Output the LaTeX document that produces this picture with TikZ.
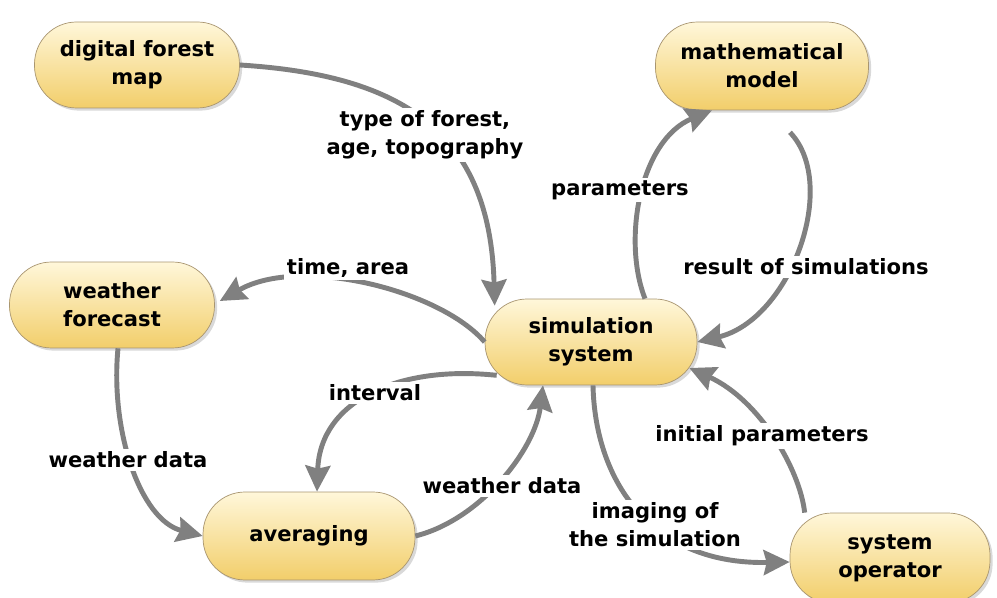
\documentclass[tikz,border=0pt]{standalone}
\usepackage{fontspec}
\setsansfont{DejaVu Sans}
\usetikzlibrary{arrows.meta}
\usetikzlibrary{shadows}
\definecolor{boxtop}{HTML}{FFF7DA}
\definecolor{boxbottom}{HTML}{F2CE6A}
\definecolor{boxline}{HTML}{A89570}
\definecolor{flowgray}{HTML}{808080}
\tikzset{
	basenode/.style = {
		align=center,
		inner sep=0pt,
		text centered,
		font=\sffamily\bfseries\fontsize{12}{16}\selectfont
	},
	node_box/.style = {
		basenode,
		rectangle,
		rounded corners=0.84cm,
		draw=boxline,
		top color=boxtop,
		bottom color=boxbottom,
		minimum width=4.1cm,
		minimum height=1.72cm,
		drop shadow={shadow xshift=1.5pt, shadow yshift=-1.5pt, opacity=0.3}
	},
	node_lbl/.style = {
		basenode,
		fill=white,
		inner sep=1.5pt
	},
	flow/.style = {
		draw=flowgray,
		line width=2.8pt
	},
}

\begin{document}
\begin{tikzpicture}[->, >={Stealth[length=0.52cm, width=0.5cm, inset=0.06cm]}, x=0.02cm, y=0.02cm]
\useasboundingbox (0,0) rectangle (997,598);
\node [node_box] (map) at (137,533) {digital forest\\map};
\node [node_box, minimum width=4.26cm, minimum height=1.76cm] (model) at (762,532) {mathematical\\model};
\node [node_box] (forecast) at (112,293) {weather\\forecast};
\node [node_box, minimum width=4.24cm] (sim) at (591,256) {simulation\\system};
\node [node_box, minimum width=4.24cm, minimum height=1.76cm] (avg) at (309,62) {averaging};
\node [node_box, minimum width=4cm, minimum height=1.8cm] (operator) at (890,40) {system\\operator};

\draw [flow] (map.east) .. controls (400,523) and (490,468) .. ([shift={(10,-7)}]sim.north west);
\draw [flow] ([shift={(54,0)}]sim.north) .. controls (622,358) and (640,458) .. ([shift={(-50,0)}]model.south);
\draw [flow] ([shift={(28,-22)}]model.south) .. controls (840,413) and (790,278) .. (sim.east);
\draw [flow] (sim.west) .. controls (440,308) and (300,343) .. ([shift={(5,4)}]forecast.east);
\draw [flow] ([shift={(12,10)}]sim.south west) .. controls (400,233) and (320,198) .. ([shift={(8,0)}]avg.north);
\draw [flow] ([shift={(6,0)}]forecast.south) .. controls (110,168) and (140,78) .. (avg.west);
\draw [flow] (avg.east) .. controls (480,78) and (535,148) .. ([shift={(-48,0)}]sim.south);
\draw [flow] ([shift={(2,0)}]sim.south) .. controls (595,118) and (650,33) .. ([shift={(0,-4)}]operator.west);
\draw [flow] ([shift={(15,0)}]operator.north west) .. controls (800,128) and (760,198) .. ([shift={(-8,-26)}]sim.east);

\node [node_lbl] (lbl_type) at (425,463) {type of forest,\\age, topography};
\node [node_lbl] (lbl_param) at (620,408) {parameters};
\node [node_lbl] (lbl_result) at (806,331) {result of simulations};
\node [node_lbl] (lbl_time) at (348,330) {time, area};
\node [node_lbl] (lbl_interval) at (375,205) {interval};
\node [node_lbl] (lbl_wdata) at (128,138) {weather data};
\node [node_lbl] (lbl_wdata2) at (502,112) {weather data};
\node [node_lbl] (lbl_init) at (762,162) {initial parameters};
\node [node_lbl] (lbl_imaging) at (655,73) {imaging of\\the simulation};
\end{tikzpicture}
\end{document}
